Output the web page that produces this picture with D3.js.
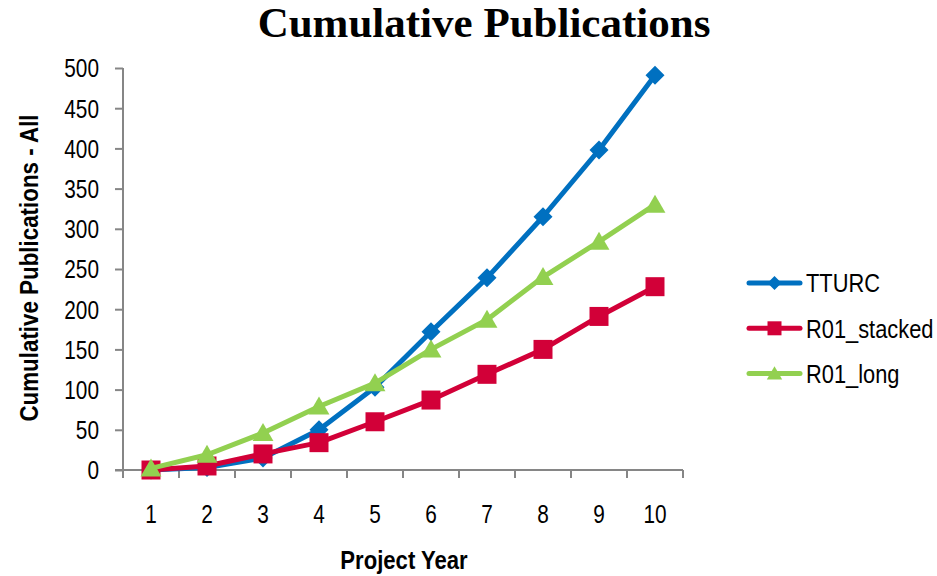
<!DOCTYPE html>
<html>
<head>
<meta charset="utf-8">
<script src="https://cdn.jsdelivr.net/npm/d3@7/dist/d3.min.js"></script>
<style>
  html, body { margin: 0; padding: 0; background: #fff; }
  svg { display: block; }
</style>
</head>
<body>
<svg id="chart" width="937" height="576"></svg>
<script>
// Project years on the x axis
const years = ["1", "2", "3", "4", "5", "6", "7", "8", "9", "10"];

// Cumulative publication counts per series
const tturc      = [0, 3, 15, 50, 103, 172, 239, 315, 398, 491];
const r01Stacked = [0, 5, 20, 34, 60, 87, 119, 150, 191, 228];
const r01Long    = [2, 19, 46, 79, 108, 150, 187, 240, 284, 330];

const seriesNames = ["TTURC", "R01_stacked", "R01_long"];
const yTicks = [0, 50, 100, 150, 200, 250, 300, 350, 400, 450, 500];

const series = [
  { name: seriesNames[0], values: tturc,      color: "#0070C0", shape: "diamond" },
  { name: seriesNames[1], values: r01Stacked, color: "#D20038", shape: "square" },
  { name: seriesNames[2], values: r01Long,    color: "#92D050", shape: "triangle" }
];

const svg = d3.select("#chart");
const margin = { left: 123, right: 254, top: 68, bottom: 106 };
const W = 937, H = 576;

const x = d3.scaleBand().domain(years).range([margin.left, W - margin.right]);
const y = d3.scaleLinear().domain([0, 500]).range([H - margin.bottom, margin.top]);
const axisColor = "#868686";
const SANS = "'Liberation Sans', Arial, sans-serif";

// Condensed text placed at (px, py)
function narrowText(parent, px, py, str, opts) {
  const o = Object.assign({ size: 26, anchor: "start", weight: "normal", rotate: 0, dy: 0, squeeze: 0.8 }, opts || {});
  return parent.append("text")
    .attr("transform", `translate(${px},${py}) rotate(${o.rotate}) scale(${o.squeeze},1)`)
    .attr("text-anchor", o.anchor)
    .attr("dy", o.dy)
    .attr("font-family", SANS)
    .attr("font-size", o.size)
    .attr("font-weight", o.weight)
    .attr("fill", "#000")
    .text(str);
}

// Title
svg.append("text")
  .attr("x", 484).attr("y", 37)
  .attr("text-anchor", "middle")
  .attr("font-family", "'Liberation Serif', 'Times New Roman', serif")
  .attr("font-weight", "bold")
  .attr("font-size", 43)
  .text("Cumulative Publications");

// Y axis
const yAxis = svg.append("g")
  .attr("transform", `translate(${margin.left},0)`)
  .call(d3.axisLeft(y).tickValues(yTicks).tickSize(8).tickFormat(""));
yAxis.select(".domain").attr("stroke", axisColor).attr("stroke-width", 2)
  .attr("d", `M0,${y(500)}V${y(0) + 8}`);
yAxis.selectAll(".tick line").attr("stroke", axisColor).attr("stroke-width", 2);
yAxis.selectAll(".tick text").remove();
yTicks.forEach(t => narrowText(svg, 99, y(t), String(t), { anchor: "end", dy: "0.36em" }));

// X axis
const xAxis = svg.append("g")
  .attr("transform", `translate(0,${y(0)})`)
  .call(d3.axisBottom(x).tickSize(0).tickFormat(""));
xAxis.select(".domain").attr("stroke", axisColor).attr("stroke-width", 2)
  .attr("d", `M${margin.left - 8},0H${W - margin.right}`);
xAxis.selectAll(".tick text").remove();
// category boundary ticks
const bounds = years.map(d => x(d)).concat([x(years[years.length - 1]) + x.bandwidth()]);
xAxis.selectAll("line.bound").data(bounds).join("line")
  .attr("class", "bound")
  .attr("x1", d => d).attr("x2", d => d)
  .attr("y1", 0).attr("y2", 8)
  .attr("stroke", axisColor).attr("stroke-width", 2);
years.forEach(d => narrowText(svg, x(d) + x.bandwidth() / 2, 523, d, { anchor: "middle" }));

// Axis titles
narrowText(svg, (margin.left + W - margin.right) / 2 + 1, 569, "Project Year",
  { anchor: "middle", weight: "bold", squeeze: 0.85 });
narrowText(svg, 38, (y(0) + y(500)) / 2 - 1, "Cumulative Publications - All",
  { anchor: "middle", weight: "bold", squeeze: 0.86, rotate: -90 });

// Marker shapes
function markerPath(shape, s) {
  if (shape === "diamond") return `M0,${-s}L${s},0L0,${s}L${-s},0Z`;
  if (shape === "square") return `M${-s},${-s}H${s}V${s}H${-s}Z`;
  return `M0,${-s * 1.05}L${s * 1.1},${s * 0.85}H${-s * 1.1}Z`;
}
const markerSize = { diamond: 9.5, square: 9.5, triangle: 9.5 };

const line = d3.line()
  .x((d, i) => x(years[i]) + x.bandwidth() / 2)
  .y(d => y(d));

series.forEach(s => {
  const g = svg.append("g");
  g.append("path")
    .attr("d", line(s.values))
    .attr("fill", "none")
    .attr("stroke", s.color)
    .attr("stroke-width", 5)
    .attr("stroke-linejoin", "round");
  g.selectAll("path.mk").data(s.values).join("path")
    .attr("class", "mk")
    .attr("transform", (d, i) => `translate(${x(years[i]) + x.bandwidth() / 2},${y(d)})`)
    .attr("d", markerPath(s.shape, markerSize[s.shape]))
    .attr("fill", s.color);
});

// Legend
const legend = svg.append("g");
series.forEach((s, i) => {
  const ly = 283 + i * 45.3;
  const row = legend.append("g").attr("transform", `translate(0,${ly})`);
  row.append("line")
    .attr("x1", 749).attr("x2", 800)
    .attr("stroke", s.color).attr("stroke-width", 5).attr("stroke-linecap", "round");
  row.append("path")
    .attr("transform", `translate(774.5,0)`)
    .attr("d", markerPath(s.shape, 7))
    .attr("fill", s.color);
  narrowText(row, 806, 0, s.name, { dy: "0.36em", squeeze: 0.84 });
});
</script>
</body>
</html>
